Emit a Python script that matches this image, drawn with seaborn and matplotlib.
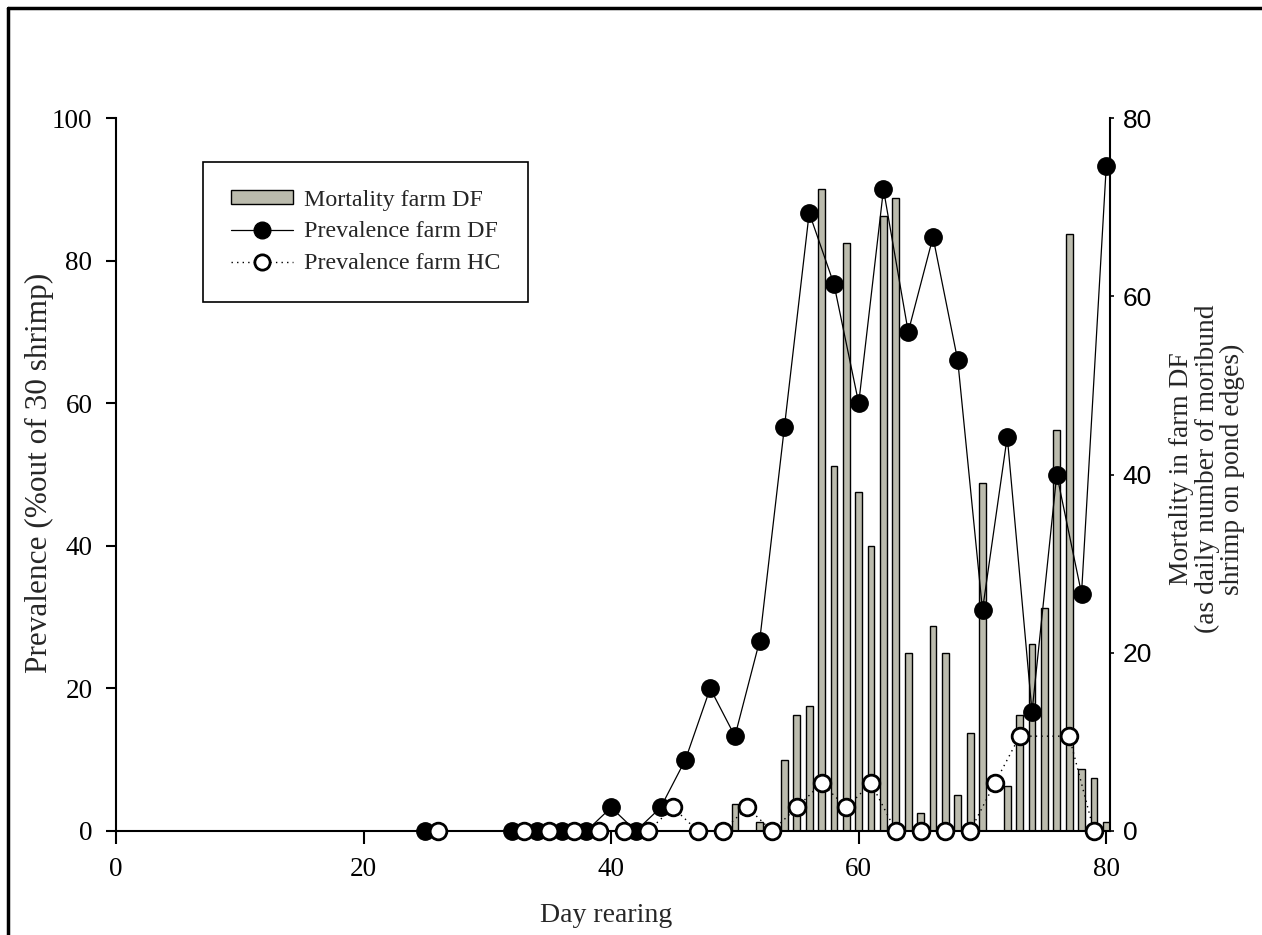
import matplotlib
matplotlib.use("Agg")
import matplotlib.pyplot as plt
from matplotlib.lines import Line2D
from matplotlib.patches import Patch
import seaborn as sns
import numpy as np

# ---------------- data ----------------
mort_days = [50, 52, 54, 55, 56, 57, 58, 59, 60, 61, 62, 63, 64, 65, 66, 67, 68, 69,
             70, 72, 73, 74, 75, 76, 77, 78, 79, 80]
mort_vals = [3, 1, 8, 13, 14, 72, 41, 66, 38, 32, 69, 71, 20, 2, 23, 20, 4, 11,
             39, 5, 13, 21, 25, 45, 67, 7, 6, 1]

df_days = [25, 32, 34, 36, 38, 40, 42, 44, 46, 48, 50, 52, 54, 56, 58, 60, 62, 64,
           66, 68, 70, 72, 74, 76, 78, 80]
df_prev = [0, 0, 0, 0, 0, 3.3, 0, 3.3, 10, 20, 13.3, 26.7, 56.7, 86.7, 76.7, 60,
           90, 70, 83.3, 66, 31, 55.3, 16.7, 50, 33.3, 93.3]

hc_days = [26, 33, 35, 37, 39, 41, 43, 45, 47, 49, 51, 53, 55, 57, 59, 61, 63, 65,
           67, 69, 71, 73, 77, 79]
hc_prev = [0, 0, 0, 0, 0, 0, 0, 3.3, 0, 0, 3.3, 0, 3.3, 6.7, 3.3, 6.7, 0, 0,
           0, 0, 6.7, 13.3, 13.3, 0]

x_ticks = [0, 20, 40, 60, 80]
left_ticks = [0, 20, 40, 60, 80, 100]
right_ticks = [0, 20, 40, 60, 80]

labels = ["Mortality farm DF", "Prevalence farm DF", "Prevalence farm HC"]

# ---------------- style ----------------
sns.set_theme(style="white")
plt.rcParams["font.family"] = ["Liberation Serif", "DejaVu Serif"]
serif = "Liberation Serif"
sans = "Liberation Sans"
bar_color = "#BBBBAD"

W, H = 1262, 935
fig = plt.figure(figsize=(W / 100, H / 100), dpi=100)
fig.patch.set_facecolor("white")

x0, x1 = 116, 1110
y_top, y_bot = 118, 831
ax = fig.add_axes([x0 / W, 1 - y_bot / H, (x1 - x0) / W, (y_bot - y_top) / H])
ax2 = ax.twinx()
ax.set_zorder(2)
ax2.set_zorder(1)
ax.patch.set_visible(False)

# bars (mortality) on right axis
sns.barplot(x=mort_days, y=mort_vals, native_scale=True, ax=ax2, color=bar_color,
            edgecolor="black", linewidth=1.0, width=0.55, errorbar=None,
            saturation=1)

# prevalence lines
sns.lineplot(x=df_days, y=df_prev, ax=ax, color="black", linewidth=0.9,
             marker="o", markersize=12.5, markeredgecolor="black",
             markerfacecolor="black", markeredgewidth=1, clip_on=False,
             zorder=4, sort=True)
sns.lineplot(x=hc_days, y=hc_prev, ax=ax, color="black", linewidth=1.0,
             linestyle=(0, (1, 3)), marker="o", markersize=12,
             markeredgecolor="black", markerfacecolor="white",
             markeredgewidth=2, clip_on=False, zorder=5, sort=True)

xlim = (0, 80.3)
ax.set_xlim(*xlim)
ax2.set_xlim(*xlim)
ax.set_ylim(0, 100)
ax2.set_ylim(0, 80)

ax.set_xticks(x_ticks)
ax.set_xticklabels([str(t) for t in x_ticks], fontfamily=serif, fontsize=19.5)
ax.set_yticks(left_ticks)
ax.set_yticklabels([str(t) for t in left_ticks], fontfamily=serif, fontsize=19.5)
ax2.set_yticks(right_ticks)
ax2.set_yticklabels([str(t) for t in right_ticks], fontfamily=sans, fontsize=19)
ax.set_xlabel("")
ax.set_ylabel("")
ax2.set_xlabel("")
ax2.set_ylabel("")

ax.tick_params(axis="x", direction="out", length=9, width=1.5, pad=10,
               colors="black", bottom=True)
ax.tick_params(axis="y", direction="out", length=7, width=1.5, pad=10,
               colors="black", left=True, right=False)
ax2.tick_params(axis="y", direction="out", length=3, width=1.2, pad=6,
                colors="black", right=True, left=False)

for s in ["top", "right"]:
    ax.spines[s].set_visible(False)
for s in ["left", "bottom"]:
    ax.spines[s].set_color("black")
    ax.spines[s].set_linewidth(1.5)
for s in ["top", "left", "bottom"]:
    ax2.spines[s].set_visible(False)
ax2.spines["right"].set_color("black")
ax2.spines["right"].set_linewidth(1.5)

# axis labels
fig.text(606 / W, 1 - 915 / H, "Day rearing", ha="center", va="center",
         fontfamily=serif, fontsize=20)
fig.text(39 / W, 1 - 473 / H, "Prevalence (%out of 30 shrimp)", ha="center",
         va="center", rotation=90, fontfamily=serif, fontsize=22.5)
fig.text(1207 / W, 1 - 469 / H,
         "Mortality in farm DF\n(as daily number of moribund\nshrimp on pond edges)",
         ha="center", va="center", rotation=90, multialignment="center",
         linespacing=1.02, fontfamily=serif, fontsize=19.8)

# legend
handles = [
    Patch(facecolor=bar_color, edgecolor="black", linewidth=1.0),
    Line2D([], [], color="black", linewidth=0.9, marker="o", markersize=12,
           markerfacecolor="black", markeredgecolor="black"),
    Line2D([], [], color="black", linewidth=1.0, linestyle=(0, (1, 3)), marker="o",
           markersize=11, markerfacecolor="white", markeredgecolor="black",
           markeredgewidth=2),
]
leg = ax.legend(handles, labels, loc="upper left",
                bbox_to_anchor=((203 - x0) / (x1 - x0), (y_bot - 162) / (y_bot - y_top)),
                borderaxespad=0, frameon=True, fancybox=False, framealpha=1,
                edgecolor="black", prop={"family": serif, "size": 17.3},
                handlelength=2.6, handleheight=0.5, handletextpad=0.45,
                labelspacing=0.45, borderpad=1.15)
leg.get_frame().set_linewidth(1.2)

# figure border (top and left)
fig.add_artist(Line2D([8 / W, 1.0], [1 - 8 / H, 1 - 8 / H], transform=fig.transFigure,
                      color="black", linewidth=2.5))
fig.add_artist(Line2D([8 / W, 8 / W], [0.0, 1 - 8 / H], transform=fig.transFigure,
                      color="black", linewidth=2.5))

fig.savefig("out.png", dpi=100, facecolor="white")
